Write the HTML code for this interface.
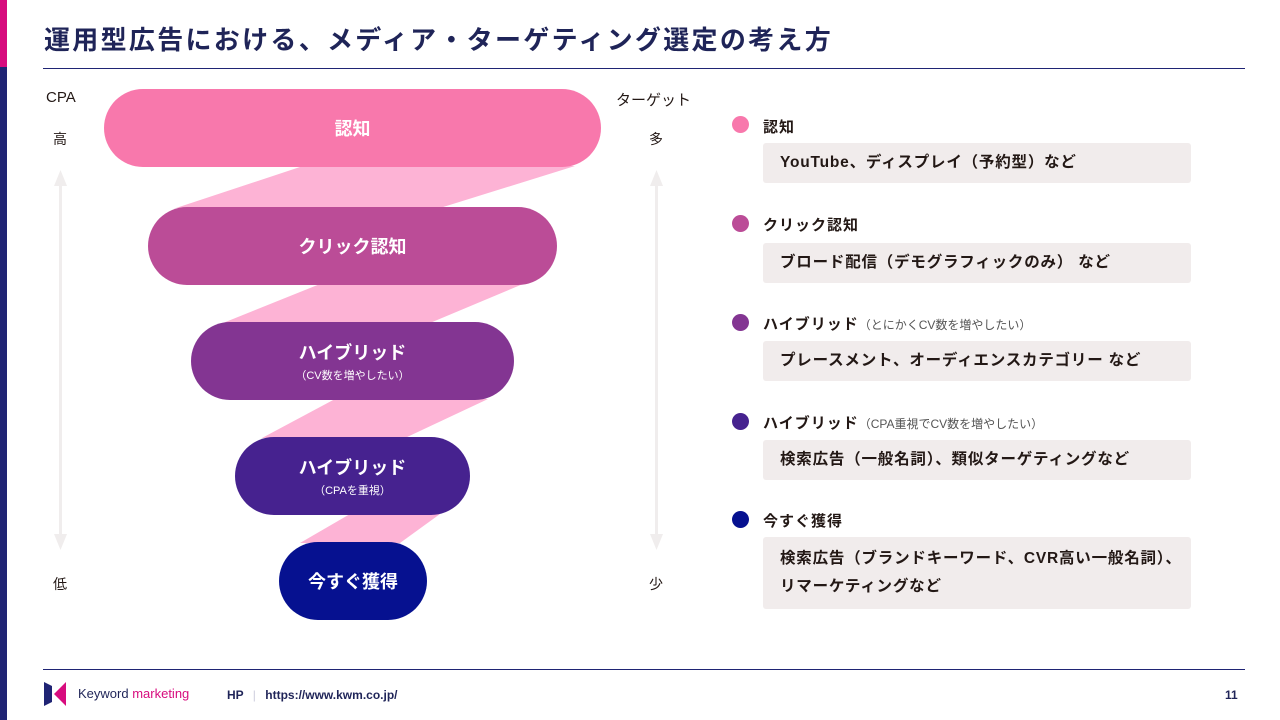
<!DOCTYPE html>
<html><head><meta charset="utf-8"><style>
*{margin:0;padding:0;box-sizing:border-box}
body{width:1280px;height:720px;background:#fff;position:relative;overflow:hidden;font-family:"Liberation Sans","Noto Sans CJK JP",sans-serif;color:#231815}
.a{position:absolute}
.pill{position:absolute;height:78px;border-radius:39px;color:#fff;font-weight:bold;text-align:center;display:flex;flex-direction:column;justify-content:center;align-items:center;font-size:18px}
.pill small{font-size:11px;font-weight:normal;margin-top:2px}
.dot{position:absolute;left:732px;width:17px;height:17px;border-radius:50%}
.lab{position:absolute;left:763px;font-weight:bold;font-size:15px;letter-spacing:1px}
.lab span{font-weight:normal;font-size:12px;color:#555;letter-spacing:0}
.box{position:absolute;left:763px;width:428px;background:#f1ecec;border-radius:3px;font-weight:bold;font-size:15.5px;letter-spacing:0.8px;padding-left:17px;display:flex;align-items:center;line-height:28px}
</style></head><body>
<div class="a" style="left:0;top:0;width:7px;height:67px;background:#d70c7e"></div>
<div class="a" style="left:0;top:67px;width:7px;height:653px;background:#1f2474"></div>
<div class="a" style="left:44px;top:20px;font-size:26px;font-weight:bold;color:#1f2458;letter-spacing:2.3px">運用型広告における、メディア・ターゲティング選定の考え方</div>
<div class="a" style="left:43px;top:68px;width:1202px;height:1px;background:#1f2474"></div>
<div class="a" style="left:43px;top:669px;width:1202px;height:1px;background:#1f2474"></div>

<div class="a" style="left:46px;top:89px;font-size:15px">CPA</div>
<div class="a" style="left:53px;top:129px;font-size:14px">高</div>
<div class="a" style="left:53px;top:574px;font-size:14px">低</div>
<div class="a" style="left:616px;top:89px;font-size:15px">ターゲット</div>
<div class="a" style="left:649px;top:129px;font-size:14px">多</div>
<div class="a" style="left:649px;top:574px;font-size:14px">少</div>
<svg class="a" style="left:0;top:0" width="1280" height="720">
<g fill="#f0eded"><rect x="59" y="182" width="3" height="356"/><polygon points="54,186 60.5,170 67,186"/><polygon points="54,534 60.5,550 67,534"/>
<rect x="655" y="182" width="3" height="356"/><polygon points="650,186 656.5,170 663,186"/><polygon points="650,534 656.5,550 663,534"/></g>
<g fill="#fdb3d5">
<polygon points="303,166 575,166 440,208 176,208"/>
<polygon points="320,284 523,284 430,323 223,323"/>
<polygon points="335,399 488,399 405,438 262,438"/>
<polygon points="350,514 440,514 400,543 300,543"/>
</g></svg>
<div class="pill" style="left:104px;top:89px;width:497px;background:#f878ac">認知</div>
<div class="pill" style="left:148px;top:207px;width:409px;background:#bb4c97">クリック認知</div>
<div class="pill" style="left:191px;top:322px;width:323px;background:#833592">ハイブリッド<small>（CV数を増やしたい）</small></div>
<div class="pill" style="left:235px;top:437px;width:235px;background:#46228f">ハイブリッド<small>（CPAを重視）</small></div>
<div class="pill" style="left:279px;top:542px;width:148px;background:#061190">今すぐ獲得</div>

<div class="dot" style="top:116px;background:#f878ac"></div>
<div class="lab" style="top:116px">認知</div>
<div class="box" style="top:143px;height:40px">YouTube、ディスプレイ（予約型）など</div>
<div class="dot" style="top:215px;background:#bb4c97"></div>
<div class="lab" style="top:214px">クリック認知</div>
<div class="box" style="top:243px;height:40px">ブロード配信（デモグラフィックのみ） など</div>
<div class="dot" style="top:314px;background:#833592"></div>
<div class="lab" style="top:313px">ハイブリッド<span>（とにかくCV数を増やしたい）</span></div>
<div class="box" style="top:341px;height:40px">プレースメント、オーディエンスカテゴリー など</div>
<div class="dot" style="top:413px;background:#46228f"></div>
<div class="lab" style="top:412px">ハイブリッド<span>（CPA重視でCV数を増やしたい）</span></div>
<div class="box" style="top:440px;height:40px">検索広告（一般名詞）、類似ターゲティングなど</div>
<div class="dot" style="top:511px;background:#061190"></div>
<div class="lab" style="top:510px">今すぐ獲得</div>
<div class="box" style="top:537px;height:72px">検索広告（ブランドキーワード、CVR高い一般名詞）、<br>リマーケティングなど</div>

<svg class="a" style="left:44px;top:682px" width="24" height="24"><polygon points="0,0 8,4 8,20 0,24" fill="#1f2474"/><polygon points="22,0 22,24 10,12" fill="#d70c7e"/></svg>
<div class="a" style="left:78px;top:686px;font-size:13px;color:#1f2458">Keyword <span style="color:#d70c7e">marketing</span></div>
<div class="a" style="left:227px;top:688px;font-size:12px;color:#1f2458;font-weight:bold">HP <span style="color:#ccd;font-weight:normal;margin:0 6px">|</span> https://www.kwm.co.jp/</div>
<div class="a" style="left:1225px;top:688px;font-size:12px;color:#1f2458;font-weight:bold">11</div>
</body></html>
